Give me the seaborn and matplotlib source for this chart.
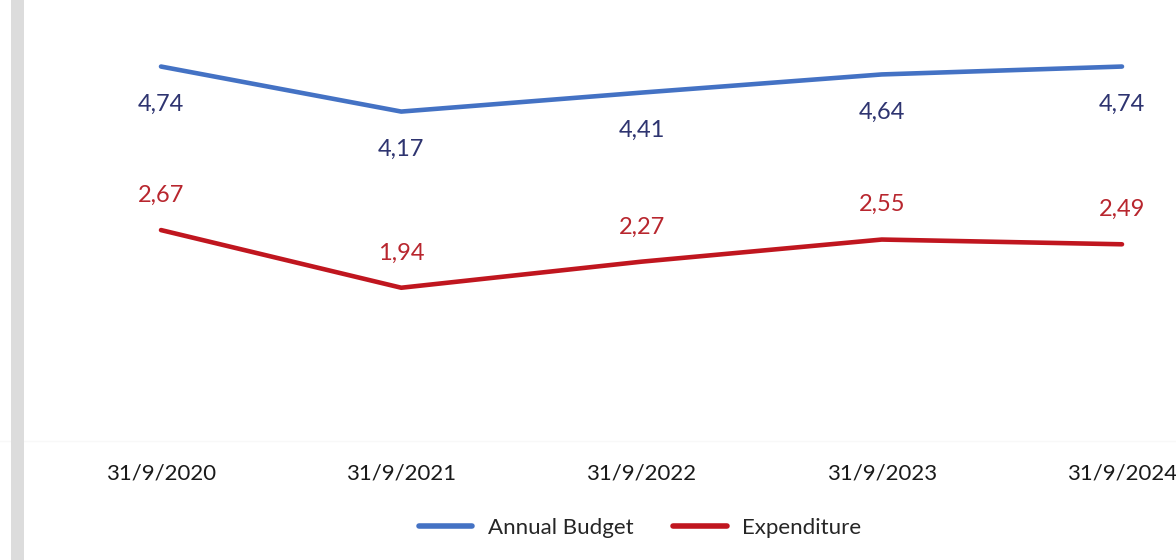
import pandas as pd
import matplotlib.pyplot as plt
import seaborn as sns
from matplotlib.patches import Rectangle

# values
dates = ['31/9/2020', '31/9/2021', '31/9/2022', '31/9/2023', '31/9/2024']
annual_budget = [4.74, 4.17, 4.41, 4.64, 4.74]
expenditure = [2.67, 1.94, 2.27, 2.55, 2.49]
series_names = ['Annual Budget', 'Expenditure']

line_colors = {'Annual Budget': '#4472C4', 'Expenditure': '#C0161F'}
label_colors = {'Annual Budget': '#2E3470', 'Expenditure': '#B8262E'}

rows = []
for i, d in enumerate(dates):
    rows.append({'idx': i, 'date': d, 'series': 'Annual Budget', 'value': annual_budget[i]})
    rows.append({'idx': i, 'date': d, 'series': 'Expenditure', 'value': expenditure[i]})
df = pd.DataFrame(rows)

sns.set_theme(style='white')
plt.rcParams['font.family'] = ['Lato', 'DejaVu Sans']

fig = plt.figure(figsize=(11.76, 5.6), dpi=100)
ax = fig.add_axes([0, 1 - 441 / 560, 1, 441 / 560])

sns.lineplot(data=df, x='idx', y='value', hue='series', hue_order=series_names,
             palette=line_colors, linewidth=3.3, sort=False, ax=ax, legend=False)

# data labels: budget below the line, expenditure above
for _, r in df.iterrows():
    off = -27 if r['series'] == 'Annual Budget' else 25
    ax.annotate(f"{r['value']:.2f}".replace('.', ','), (r['idx'], r['value']),
                xytext=(0, off), textcoords='offset points', ha='center', va='center',
                fontsize=17, color=label_colors[r['series']])

ax.set_xlim(-161 / 240.25, (1176 - 161) / 240.25)
ax.set_ylim(0, 441 / 79)
ax.set_xticks(range(len(dates)))
ax.set_xticklabels(dates, fontsize=16, color='#1A1A1A')
ax.set_yticks([])
ax.tick_params(axis='x', length=0, pad=16)
ax.set_xlabel('')
ax.set_ylabel('')
for s in ['top', 'right', 'left']:
    ax.spines[s].set_visible(False)
ax.spines['bottom'].set_color('#F8F8F8')
ax.spines['bottom'].set_linewidth(1)

handles = [plt.Line2D([], [], color=line_colors[n], linewidth=4) for n in series_names]
fig.legend(handles, series_names, loc='center', bbox_to_anchor=(640 / 1176, 1 - 528 / 560),
           ncol=2, frameon=False, fontsize=16, handlelength=2.4, handletextpad=0.7,
           columnspacing=1.8, labelcolor='#262626')

# grey scan edge on the left
fig.patches.append(Rectangle((11 / 1176, 0), 13 / 1176, 1, transform=fig.transFigure,
                             facecolor='#DCDCDC', edgecolor='none', zorder=0))

fig.savefig('out.png', dpi=100)
